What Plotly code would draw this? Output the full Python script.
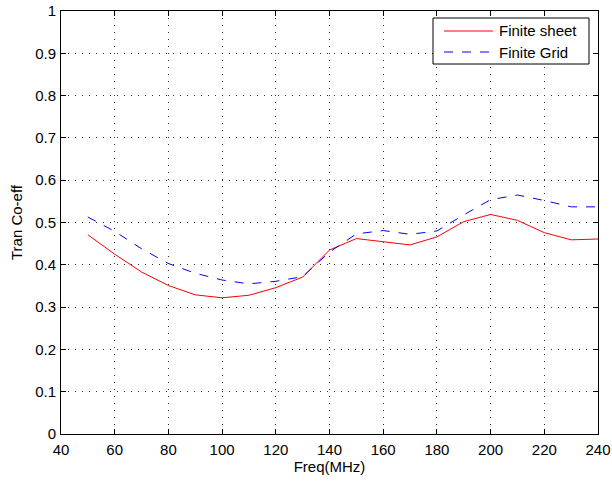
import plotly.graph_objects as go

freq = [50, 60, 70, 80, 90, 100, 110, 120, 130, 140, 150, 160, 170, 180, 190, 200, 210, 220, 230, 240]
finite_sheet = [0.471, 0.425, 0.383, 0.351, 0.329, 0.322, 0.328, 0.346, 0.371, 0.435,
                0.462, 0.455, 0.447, 0.466, 0.502, 0.519, 0.505, 0.476, 0.459, 0.461]
finite_grid = [0.513, 0.479, 0.438, 0.403, 0.380, 0.364, 0.355, 0.361, 0.372, 0.430,
               0.473, 0.481, 0.472, 0.480, 0.518, 0.554, 0.565, 0.552, 0.537, 0.537]
series_names = ["Finite sheet", "Finite Grid"]

x_ticks = list(range(40, 241, 20))
y_ticks = [round(i * 0.1, 1) for i in range(11)]
y_tick_labels = ["0"] + [f"{v:g}" for v in y_ticks[1:-1]] + ["1"]

FONT = "Liberation Sans, Arial, sans-serif"
W, H = 612, 481
ML, MR, MT, MB = 61, 14, 11, 47
PW, PH = W - ML - MR, H - MT - MB


def fx(px):
    return (px - ML) / PW


def fy(py):
    return (H - MB - py) / PH


styles = [dict(color="#ff0000", width=1), dict(color="#0000ff", width=1, dash="dash")]

fig = go.Figure()
fig.add_trace(go.Scatter(x=freq, y=finite_sheet, mode="lines", name=series_names[0],
                         line=styles[0], showlegend=False))
fig.add_trace(go.Scatter(x=freq, y=finite_grid, mode="lines", name=series_names[1],
                         line=styles[1], showlegend=False))

axis_common = dict(
    showline=True, linecolor="black", linewidth=1, mirror="ticks",
    ticks="inside", ticklen=5, tickcolor="black",
    showgrid=True, gridcolor="#333333", gridwidth=1, griddash="1px,6px",
    zeroline=False, automargin=False,
    tickfont=dict(family=FONT, size=15, color="black"),
)

fig.update_xaxes(range=[40, 240], tickvals=x_ticks, ticklabelstandoff=2, **axis_common,
                 title=dict(text="Freq(MHz)", standoff=0,
                            font=dict(family=FONT, size=15, color="black")))
fig.update_yaxes(range=[0, 1], tickvals=y_ticks, ticktext=y_tick_labels, ticklabelstandoff=1,
                 **axis_common,
                 title=dict(text="Tran Co-eff", standoff=8,
                            font=dict(family=FONT, size=15, color="black")))

# Legend box drawn to match the reference layout
shapes = [dict(type="rect", xref="paper", yref="paper",
               x0=fx(433), x1=fx(589), y0=fy(64), y1=fy(18),
               line=dict(color="black", width=1), fillcolor="white", layer="above")]
annotations = []
for i, (name, st) in enumerate(zip(series_names, styles)):
    ypx = 31 + i * 21
    shapes.append(dict(type="line", xref="paper", yref="paper",
                       x0=fx(444), x1=fx(493), y0=fy(ypx), y1=fy(ypx),
                       line=st, layer="above"))
    annotations.append(dict(text=name, xref="paper", yref="paper",
                            x=fx(497), y=fy(ypx), xanchor="left", yanchor="middle",
                            showarrow=False,
                            font=dict(family=FONT, size=15, color="black")))

fig.update_layout(
    width=W, height=H,
    margin=dict(l=ML, r=MR, t=MT, b=MB, autoexpand=False),
    paper_bgcolor="white", plot_bgcolor="white",
    showlegend=False,
    shapes=shapes,
    annotations=annotations,
)

fig.write_html("out.html")
